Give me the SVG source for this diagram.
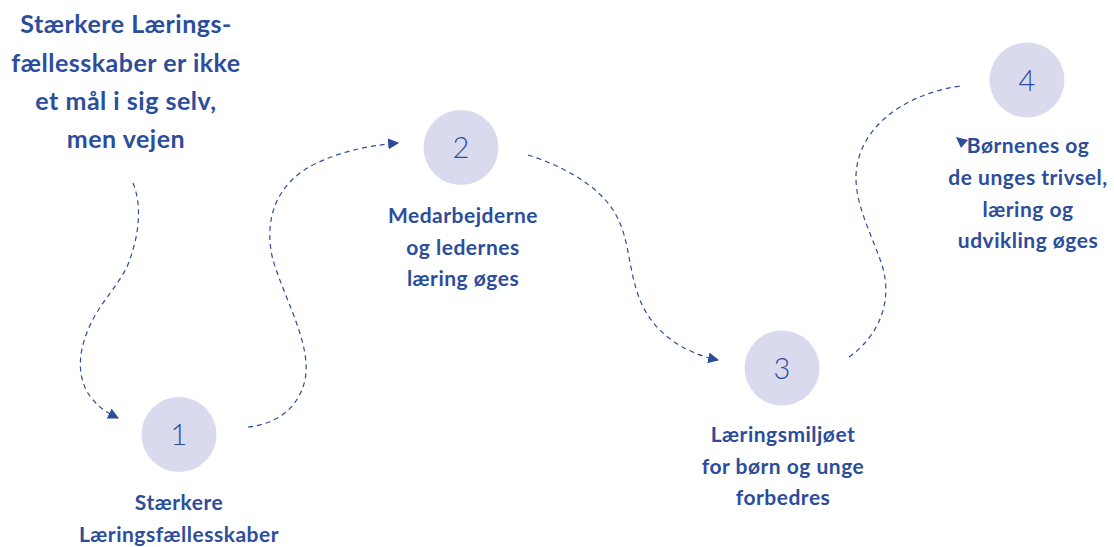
<svg xmlns="http://www.w3.org/2000/svg" width="1114" height="547" viewBox="0 0 1114 547">
  <style>
    .bg { fill: #ffffff; }
    .dot { fill: #dadaee; }
    .num { font-family: Lato, "Open Sans", sans-serif; font-weight: 300; font-size: 29px; fill: #2c4d9b; text-anchor: middle; }
    .lbl { font-family: Lato, "Open Sans", sans-serif; font-weight: 700; font-size: 21px; letter-spacing: 0.5px; fill: #2c4d9b; text-anchor: middle; }
    .title { font-family: Lato, "Open Sans", sans-serif; font-weight: 700; font-size: 25px; letter-spacing: 0.5px; fill: #2c4d9b; text-anchor: middle; }
    .path { fill: none; stroke: #2c4d9b; stroke-width: 1.2; stroke-dasharray: 5 4; }
    .head { fill: #2c4d9b; }
  </style>
  <defs>
    <marker id="arrow" viewBox="0 0 10 10" refX="9" refY="5" markerWidth="11" markerHeight="11" markerUnits="userSpaceOnUse" orient="auto">
      <path d="M0,0 L10,5 L0,10 Z" class="head"/>
    </marker>
  </defs>
  <rect class="bg" x="0" y="0" width="1114" height="547"/>

  <g id="intro">
    <text class="title" x="126" y="33">Stærkere Lærings-</text>
    <text class="title" x="126" y="71.5">fællesskaber er ikke</text>
    <text class="title" x="126" y="110">et mål i sig selv,</text>
    <text class="title" x="126" y="148">men vejen</text>
  </g>

  <g id="connectors">
    <path class="path" marker-end="url(#arrow)" d="M133,183 C142,205 140,235 127,267 C115,290 98,305 88,330 C76,358 78,385 95,402 C102,410 110,414 118,418"/>
    <path class="path" marker-end="url(#arrow)" d="M248,427 C275,424 298,410 305,380 C312,345 285,300 273,260 C262,215 280,180 317,163 C340,152 365,146 398,143"/>
    <path class="path" marker-end="url(#arrow)" d="M528,155 C560,165 600,185 616,215 C630,240 628,270 640,300 C652,330 680,352 718,360"/>
    <path class="path" d="M849,357 C880,335 893,300 882,265 C872,235 855,205 856,175 C858,130 900,95 960,86"/>
    <polygon class="head" points="956,137 968,140 961,148"/>
  </g>

  <g id="node-1">
    <circle class="dot" cx="179" cy="434.5" r="37.5"/>
    <text class="num" x="179" y="445">1</text>
    <text class="lbl" x="179" y="510">Stærkere</text>
    <text class="lbl" x="179" y="541.5">Læringsfællesskaber</text>
  </g>

  <g id="node-2">
    <circle class="dot" cx="461" cy="147.5" r="37.5"/>
    <text class="num" x="461" y="158">2</text>
    <text class="lbl" x="463" y="223">Medarbejderne</text>
    <text class="lbl" x="463" y="254.5">og ledernes</text>
    <text class="lbl" x="463" y="285.5">læring øges</text>
  </g>

  <g id="node-3">
    <circle class="dot" cx="782" cy="368" r="37.5"/>
    <text class="num" x="782" y="378.5">3</text>
    <text class="lbl" x="783" y="442">Læringsmiljøet</text>
    <text class="lbl" x="783" y="473.5">for børn og unge</text>
    <text class="lbl" x="783" y="505">forbedres</text>
  </g>

  <g id="node-4">
    <circle class="dot" cx="1027" cy="80" r="37.5"/>
    <text class="num" x="1027" y="90.5">4</text>
    <text class="lbl" x="1028" y="153">Børnenes og</text>
    <text class="lbl" x="1028" y="185">de unges trivsel,</text>
    <text class="lbl" x="1028" y="216.5">læring og</text>
    <text class="lbl" x="1028" y="248">udvikling øges</text>
  </g>
</svg>
